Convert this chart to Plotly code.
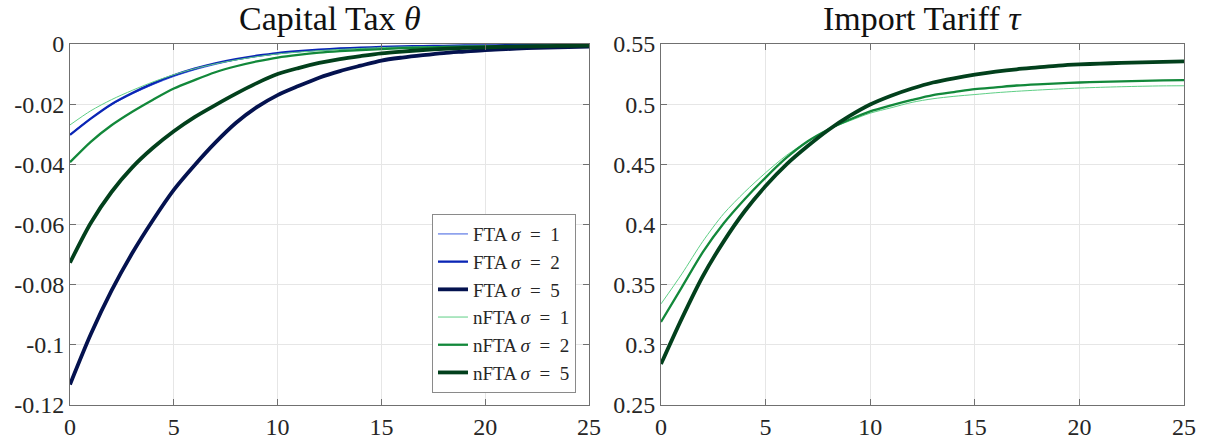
import plotly.graph_objects as go

t = list(range(26))

# Capital tax theta
fta1 = [-0.0300, -0.0247, -0.0202, -0.0166, -0.0135, -0.0108, -0.0086, -0.0068, -0.0053, -0.0042,
        -0.0033, -0.0026, -0.0021, -0.0017, -0.0014, -0.0011, -0.0009, -0.0008, -0.0007, -0.0006,
        -0.0005, -0.0005, -0.0004, -0.0004, -0.0004, -0.0003]
fta2 = [-0.0302, -0.0248, -0.0200, -0.0163, -0.0131, -0.0104, -0.0082, -0.0064, -0.0050, -0.0039,
        -0.0030, -0.0024, -0.0019, -0.0015, -0.0012, -0.0010, -0.0008, -0.0007, -0.0006, -0.0005,
        -0.0005, -0.0004, -0.0004, -0.0003, -0.0003, -0.0003]
fta5 = [-0.1132, -0.0965, -0.0820, -0.0695, -0.0585, -0.0485, -0.0403, -0.0328, -0.0262, -0.0210,
        -0.0170, -0.0140, -0.0112, -0.0090, -0.0072, -0.0055, -0.0045, -0.0037, -0.0030, -0.0025,
        -0.0020, -0.0017, -0.0014, -0.0012, -0.0010, -0.0009]
nfta1 = [-0.0269, -0.0222, -0.0185, -0.0154, -0.0126, -0.0102, -0.0082, -0.0066, -0.0053, -0.0042,
         -0.0033, -0.0027, -0.0022, -0.0018, -0.0015, -0.0012, -0.0010, -0.0009, -0.0008, -0.0007,
         -0.0006, -0.0005, -0.0005, -0.0004, -0.0004, -0.0004]
nfta2 = [-0.0393, -0.0325, -0.0270, -0.0225, -0.0185, -0.0148, -0.0120, -0.0094, -0.0074, -0.0058,
         -0.0045, -0.0036, -0.0029, -0.0024, -0.0020, -0.0017, -0.0014, -0.0012, -0.0010, -0.0009,
         -0.0008, -0.0007, -0.0006, -0.0006, -0.0005, -0.0005]
nfta5 = [-0.0727, -0.0595, -0.0492, -0.0410, -0.0345, -0.0290, -0.0243, -0.0203, -0.0165, -0.0130,
         -0.0100, -0.0080, -0.0063, -0.0050, -0.0040, -0.0031, -0.0025, -0.0020, -0.0016, -0.0013,
         -0.0011, -0.0009, -0.0008, -0.0007, -0.0006, -0.0005]

# Import tariff tau (nFTA only)
tau_nfta1 = [0.334, 0.359, 0.386, 0.409, 0.427, 0.443, 0.4575, 0.469, 0.479, 0.486,
             0.4925, 0.497, 0.5015, 0.5045, 0.5065, 0.508, 0.5095, 0.5107, 0.5117, 0.5126,
             0.5134, 0.514, 0.5145, 0.5149, 0.5152, 0.5153]
tau_nfta2 = [0.319, 0.348, 0.377, 0.401, 0.421, 0.439, 0.4555, 0.469, 0.479, 0.487,
             0.494, 0.499, 0.5035, 0.5075, 0.510, 0.5125, 0.514, 0.5155, 0.5165, 0.5173,
             0.518, 0.5185, 0.519, 0.5194, 0.5197, 0.520]
tau_nfta5 = [0.284, 0.322, 0.357, 0.386, 0.411, 0.432, 0.450, 0.465, 0.4786, 0.490,
             0.4997, 0.507, 0.513, 0.518, 0.5215, 0.5245, 0.527, 0.529, 0.5305, 0.532,
             0.533, 0.5337, 0.5343, 0.5348, 0.5352, 0.5355]

left_yticks = [0, -0.02, -0.04, -0.06, -0.08, -0.1, -0.12]
left_yticktext = ["0", "-0.02", "-0.04", "-0.06", "-0.08", "-0.1", "-0.12"]
right_yticks = [0.25, 0.3, 0.35, 0.4, 0.45, 0.5, 0.55]
right_yticktext = ["0.25", "0.3", "0.35", "0.4", "0.45", "0.5", "0.55"]
xticks = [0, 5, 10, 15, 20, 25]

FONT = "Liberation Serif"
c_fta1, c_fta2, c_fta5 = "#3d5fe0", "#0a25b5", "#04124f"
c_n1, c_n2, c_n5 = "#5fcf86", "#12883a", "#02401c"

SP = "\u2002"
fig = go.Figure()
left = [
    (f"FTA <i>σ</i>{SP}={SP}1", fta1, c_fta1, 1),
    (f"FTA <i>σ</i>{SP}={SP}2", fta2, c_fta2, 2.3),
    (f"FTA <i>σ</i>{SP}={SP}5", fta5, c_fta5, 3.8),
    (f"nFTA <i>σ</i>{SP}={SP}1", nfta1, c_n1, 1),
    (f"nFTA <i>σ</i>{SP}={SP}2", nfta2, c_n2, 2.3),
    (f"nFTA <i>σ</i>{SP}={SP}5", nfta5, c_n5, 3.8),
]
for name, y, c, w in left:
    fig.add_trace(go.Scatter(x=t, y=y, mode="lines", name=name,
                             line=dict(color=c, width=w, shape="spline", smoothing=0.8),
                             xaxis="x", yaxis="y"))
right = [
    ("nFTA σ=1", tau_nfta1, c_n1, 1),
    ("nFTA σ=2", tau_nfta2, c_n2, 2.3),
    ("nFTA σ=5", tau_nfta5, c_n5, 3.8),
]
for name, y, c, w in right:
    fig.add_trace(go.Scatter(x=t, y=y, mode="lines", name=name, showlegend=False,
                             line=dict(color=c, width=w, shape="spline", smoothing=0.8),
                             xaxis="x2", yaxis="y2"))

axis_common = dict(showline=True, linecolor="#707070", linewidth=1, mirror="ticks",
                   ticks="inside", ticklen=6, tickcolor="#707070", automargin=False,
                   showgrid=True, gridcolor="#e6e6e6", gridwidth=1, zeroline=False,
                   tickfont=dict(family=FONT, size=24, color="#262626"))

fig.update_layout(
    width=1212, height=439,
    margin=dict(l=70, r=28, t=44, b=34),
    plot_bgcolor="white", paper_bgcolor="white",
    font=dict(family=FONT, color="#262626"),
    xaxis=dict(domain=[0, 0.4659], range=[0, 25], tickvals=xticks, anchor="y", **axis_common),
    yaxis=dict(domain=[0, 1], range=[-0.12, 0], tickvals=left_yticks, ticktext=left_yticktext,
               anchor="x", **axis_common),
    xaxis2=dict(domain=[0.5305, 1], range=[0, 25], tickvals=xticks, anchor="y2", **axis_common),
    yaxis2=dict(domain=[0, 1], range=[0.25, 0.55], tickvals=right_yticks, ticktext=right_yticktext,
                anchor="x2", **axis_common),
    legend=dict(x=0.4542, y=0.033, xanchor="right", yanchor="bottom",
                bgcolor="white", bordercolor="#8a8a8a", borderwidth=1,
                font=dict(family=FONT, size=19, color="#262626"),
                tracegroupgap=0, itemwidth=30),
    showlegend=True,
    annotations=[
        dict(text="Capital Tax <i>θ</i>", x=0.4659 / 2, y=1, xref="paper", yref="paper",
             xanchor="center", yanchor="bottom", yshift=5, showarrow=False,
             font=dict(family=FONT, size=34, color="#111")),
        dict(text="Import Tariff <i>τ</i>", x=(0.5305 + 1) / 2, y=1, xref="paper", yref="paper",
             xanchor="center", yanchor="bottom", yshift=5, showarrow=False,
             font=dict(family=FONT, size=34, color="#111")),
    ],
)

fig.write_html("out.html", config={"displayModeBar": False},
               post_script="document.body.style.margin='0';")
